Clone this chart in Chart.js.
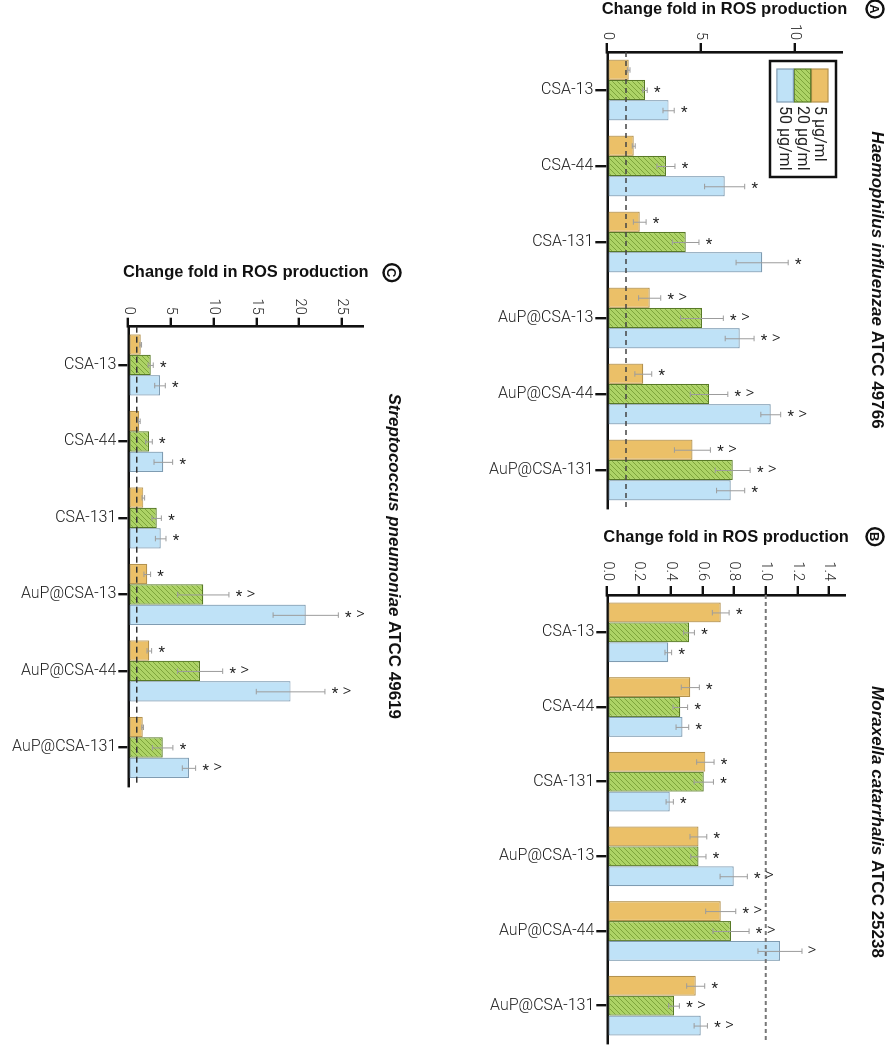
<!DOCTYPE html>
<html>
<head>
<meta charset="utf-8">
<script src="https://cdn.jsdelivr.net/npm/chart.js@4.4.1/dist/chart.umd.min.js"></script>
<style>
  html, body { margin:0; padding:0; background:#fff; }
  body { width:886px; height:1049px; overflow:hidden; position:relative; }
  #fig { position:absolute; left:0; top:0; width:1049px; height:886px;
         transform-origin:0 0; transform:translate(886px,0) rotate(90deg); }
  canvas { position:absolute; }
</style>
</head>
<body>
<div id="fig">
  <canvas id="cA" width="515" height="416" style="left:0;top:0"></canvas>
  <canvas id="cB" width="529" height="416" style="left:520px;top:0"></canvas>
  <canvas id="cC" width="545" height="416" style="left:255px;top:470px"></canvas>
</div>
<script>
// ---------- data ----------
const categories = ['CSA-13', 'CSA-44', 'CSA-131', 'AuP@CSA-13', 'AuP@CSA-44', 'AuP@CSA-131'];
const doseLabels = ['5 µg/ml', '20 µg/ml', '50 µg/ml'];
const axisTitle = 'Change fold in ROS production';
const refValue = 1;

// Panel A: Haemophilus influenzae ATCC 49766
const titleA = ['Haemophilus influenzae', ' ATCC 49766'];
const ticksA = [0, 5, 10];
const maxA = 12.5;
const hi5 = [1.14, 1.41, 1.73, 2.26, 1.92, 4.54];
const hi5Err = [0.07, 0.08, 0.34, 0.59, 0.45, 0.96];
const hi20 = [2.01, 3.13, 4.18, 5.05, 5.43, 6.69];
const hi20Err = [0.12, 0.48, 0.71, 1.14, 1.0, 0.93];
const hi50 = [3.27, 6.26, 8.26, 7.06, 8.72, 6.58];
const hi50Err = [0.3, 1.07, 1.39, 0.77, 0.53, 0.75];
const hi5Mark = ['', '', '*', '* >', '*', '* >'];
const hi20Mark = ['*', '*', '*', '* >', '* >', '* >'];
const hi50Mark = ['*', '*', '*', '* >', '* >', '*'];

// Panel B: Moraxella catarrhalis ATCC 25238
const titleB = ['Moraxella catarrhalis', ' ATCC 25238'];
const ticksB = [0, 0.2, 0.4, 0.6, 0.8, 1.0, 1.2, 1.4];
const maxB = 1.5;
const mc5 = [0.716, 0.524, 0.619, 0.575, 0.716, 0.558];
const mc5Err = [0.053, 0.057, 0.055, 0.053, 0.095, 0.057];
const mc20 = [0.516, 0.461, 0.609, 0.575, 0.781, 0.421];
const mc20Err = [0.034, 0.046, 0.061, 0.048, 0.114, 0.034];
const mc50 = [0.385, 0.474, 0.394, 0.798, 1.09, 0.59];
const mc50Err = [0.021, 0.04, 0.023, 0.086, 0.139, 0.042];
const mc5Mark = ['*', '*', '*', '*', '* >', '*'];
const mc20Mark = ['*', '*', '*', '*', '* >', '* >'];
const mc50Mark = ['*', '*', '*', '* >', '>', '* >'];

// Panel C: Streptococcus pneumoniae ATCC 49619
const titleC = ['Streptococcus pneumoniae', ' ATCC 49619'];
const ticksC = [0, 5, 10, 15, 20, 25];
const maxC = 27.5;
const sp5 = [1.45, 1.29, 1.76, 2.22, 2.46, 1.68];
const sp5Err = [0.1, 0.1, 0.15, 0.39, 0.27, 0.1];
const sp20 = [2.62, 2.42, 3.32, 8.78, 8.4, 4.02];
const sp20Err = [0.3, 0.39, 0.55, 3.0, 2.65, 1.2];
const sp50 = [3.71, 4.1, 3.79, 20.77, 19.0, 7.1];
const sp50Err = [0.62, 1.09, 0.62, 3.82, 4.02, 0.78];
const sp5Mark = ['', '', '', '*', '*', ''];
const sp20Mark = ['*', '*', '*', '* >', '* >', '*'];
const sp50Mark = ['*', '*', '*', '* >', '* >', '* >'];

// ---------- styles ----------
const LIGHT = 'Roboto, "Liberation Sans", Arial, sans-serif';
const BOLD = '"Liberation Sans", Arial, Helvetica, sans-serif';
const orangeFill = '#EBC068', orangeLine = '#B4924E';
const greenBase = '#ADD366', greenHatch = '#7EA53C', greenLine = '#587A26';
const blueFill = '#BFE2F7', blueLine = '#7F9CB2';

function hatch(base, line) {
  const s = 5;
  const c = document.createElement('canvas');
  c.width = s; c.height = s;
  const x = c.getContext('2d');
  x.fillStyle = base; x.fillRect(0, 0, s, s);
  x.strokeStyle = line; x.lineWidth = 1;
  x.beginPath();
  x.moveTo(0, s); x.lineTo(s, 0);
  x.moveTo(-1, 1); x.lineTo(1, -1);
  x.moveTo(s - 1, s + 1); x.lineTo(s + 1, s - 1);
  x.stroke();
  return x.createPattern(c, 'repeat');
}
const greenFill = hatch(greenBase, greenHatch);

function datasets(d5, d20, d50) {
  return [
    { label: doseLabels[0], data: d5, backgroundColor: orangeFill, borderColor: orangeLine },
    { label: doseLabels[1], data: d20, backgroundColor: greenFill, borderColor: greenLine },
    { label: doseLabels[2], data: d50, backgroundColor: blueFill, borderColor: blueLine }
  ].map(d => Object.assign(d, { borderWidth: 1.2, borderSkipped: false,
        categoryPercentage: 0.8, barPercentage: 1.0 }));
}

function rotText(ctx, t, x, y, dy) {
  ctx.save();
  ctx.translate(x, y);
  ctx.rotate(-Math.PI / 2);
  ctx.fillText(t, 0, dy || 0);
  ctx.restore();
}

const panelPlugin = {
  id: 'panel',
  afterDatasetsDraw(chart, args, o) {
    const ctx = chart.ctx, ys = chart.scales.y, area = chart.chartArea;
    // reference line at 1
    ctx.save();
    ctx.setLineDash(o.dash);
    ctx.strokeStyle = o.refColor; ctx.lineWidth = o.refWidth;
    const py = ys.getPixelForValue(refValue);
    ctx.beginPath(); ctx.moveTo(area.left, py); ctx.lineTo(area.right, py); ctx.stroke();
    ctx.restore();
    // error bars and marks
    chart.data.datasets.forEach((ds, i) => {
      const meta = chart.getDatasetMeta(i);
      meta.data.forEach((bar, j) => {
        const v = ds.data[j], e = o.errors[i][j];
        const top = ys.getPixelForValue(v + e);
        const bot = ys.getPixelForValue(Math.max(0, v - e));
        const x = bar.x;
        ctx.save();
        ctx.strokeStyle = '#9c9c9c'; ctx.lineWidth = 1;
        ctx.beginPath();
        ctx.moveTo(x + 0.5, top); ctx.lineTo(x + 0.5, bot);
        ctx.moveTo(x - 2.5, top); ctx.lineTo(x + 3, top);
        ctx.moveTo(x - 2.5, bot); ctx.lineTo(x + 3, bot);
        ctx.stroke();
        ctx.restore();
        const m = o.marks[i][j];
        if (m) {
          ctx.save();
          ctx.fillStyle = '#222';
          ctx.font = '15px ' + LIGHT;
          ctx.textAlign = 'center'; ctx.textBaseline = 'middle';
          const hasStar = m.indexOf('*') >= 0, hasHat = m.indexOf('>') >= 0;
          if (hasStar) rotText(ctx, '*', x, top - 10, 3);
          if (hasHat) {
            ctx.font = '300 17px ' + LIGHT;
            rotText(ctx, '>', x, hasStar ? top - 22 : top - 10, 0);
          }
          ctx.restore();
        }
      });
    });
  },
  afterDraw(chart, args, o) {
    const ctx = chart.ctx, area = chart.chartArea;
    // panel letter
    ctx.save();
    ctx.strokeStyle = '#111'; ctx.lineWidth = 2.4;
    ctx.beginPath(); ctx.arc(o.letterX, o.letterY, 8.5, 0, Math.PI * 2); ctx.stroke();
    ctx.fillStyle = '#111'; ctx.font = 'bold 13px ' + BOLD;
    ctx.textAlign = 'center'; ctx.textBaseline = 'middle';
    ctx.fillText(o.letter, o.letterX, o.letterY + 1);
    ctx.restore();
    // species title
    ctx.save();
    ctx.fillStyle = '#111';
    ctx.textBaseline = 'alphabetic';
    const f1 = 'italic bold 17px ' + BOLD, f2 = 'bold 17px ' + BOLD;
    ctx.font = f1; const w1 = ctx.measureText(o.title[0]).width;
    ctx.font = f2; const w2 = ctx.measureText(o.title[1]).width;
    const cx = (area.left + area.right) / 2 + (o.titleShift || 0);
    let x0 = cx - (w1 + w2) / 2;
    ctx.font = f1; ctx.fillText(o.title[0], x0, o.titleY);
    ctx.font = f2; ctx.fillText(o.title[1], x0 + w1, o.titleY);
    ctx.restore();
    // legend
    if (o.legend) {
      const L = o.legend;
      ctx.save();
      ctx.strokeStyle = '#111'; ctx.lineWidth = 2.5;
      ctx.strokeRect(L.x, L.y, L.w, L.h);
      chart.data.datasets.forEach((ds, i) => {
        const sy = L.y + 8 + i * 17.3;
        ctx.fillStyle = ds.backgroundColor;
        ctx.fillRect(L.x + 8, sy, 33, 16.5);
        ctx.strokeStyle = ds.borderColor; ctx.lineWidth = 1.2;
        ctx.strokeRect(L.x + 8, sy, 33, 16.5);
        ctx.fillStyle = '#222'; ctx.font = '16px ' + LIGHT;
        ctx.textAlign = 'left'; ctx.textBaseline = 'middle';
        ctx.fillText(ds.label, L.x + 45, sy + 9);
      });
      ctx.restore();
    }
  }
};

function makeChart(id, cfg) {
  const decimals = cfg.decimals;
  return new Chart(document.getElementById(id), {
    type: 'bar',
    data: { labels: categories, datasets: cfg.datasets },
    plugins: [panelPlugin],
    options: {
      responsive: false,
      animation: false,
      events: [],
      layout: { padding: cfg.padding },
      plugins: {
        legend: { display: false },
        tooltip: { enabled: false },
        panel: cfg.panel
      },
      scales: {
        x: {
          type: 'category',
          offset: true,
          afterFit: s => { s.height = cfg.xH; },
          grid: { offset: false, drawOnChartArea: false, drawTicks: true, tickLength: cfg.catTick,
                  color: '#111', lineWidth: 2.4 },
          border: { display: true, color: '#111', width: 2.6 },
          ticks: { minRotation: 90, maxRotation: 90, autoSkip: false, padding: 2,
                   color: '#222', font: { family: LIGHT, size: 16, weight: '300' } }
        },
        y: {
          type: 'linear',
          min: 0, max: cfg.max,
          afterFit: s => { s.width = cfg.yW; },
          afterBuildTicks: s => { s.ticks = cfg.ticks.map(v => ({ value: v })); },
          grid: { drawOnChartArea: false, drawTicks: true, tickLength: 9, color: '#111', lineWidth: 2.4 },
          border: { display: true, color: '#111', width: 2.6 },
          ticks: { padding: cfg.tickPad, color: '#222', font: { family: LIGHT, size: 14.5, weight: '300' },
                   callback: v => Number(v).toFixed(decimals) },
          title: { display: true, text: axisTitle, padding: 0, color: '#111',
                   font: { family: BOLD, size: 16.5, weight: 'bold', lineHeight: 1.1 } }
        }
      }
    }
  });
}

makeChart('cA', {
  datasets: datasets(hi5, hi20, hi50),
  max: maxA, ticks: ticksA, decimals: 0, tickPad: 3, catTick: 12,
  padding: { left: 0, right: 7, top: 44.4, bottom: 0 }, yW: 52, xH: 137.3,
  panel: {
    errors: [hi5Err, hi20Err, hi50Err], marks: [hi5Mark, hi20Mark, hi50Mark],
    dash: [5, 4], refColor: '#444', refWidth: 1.5,
    letter: 'A', letterX: 9, letterY: 11, title: titleA, titleY: 14,
    legend: { x: 61, y: 50, w: 116, h: 66 }
  }
});

makeChart('cB', {
  datasets: datasets(mc5, mc20, mc50),
  max: maxB, ticks: ticksB, decimals: 1, tickPad: 5, catTick: 11,
  padding: { left: 8, right: 6, top: 41.1, bottom: 0 }, yW: 67, xH: 137.3,
  panel: {
    errors: [mc5Err, mc20Err, mc50Err], marks: [mc5Mark, mc20Mark, mc50Mark],
    dash: [4, 3], refColor: '#777', refWidth: 2,
    letter: 'B', letterX: 16.7, letterY: 11, title: titleB, titleY: 14, titleShift: 3
  }
});

makeChart('cC', {
  datasets: datasets(sp5, sp20, sp50),
  max: maxC, ticks: ticksC, decimals: 0, tickPad: 3, catTick: 10,
  padding: { left: 8.7, right: 14.3, top: 52.8, bottom: 0 }, yW: 63, xH: 128.3,
  panel: {
    errors: [sp5Err, sp20Err, sp50Err], marks: [sp5Mark, sp20Mark, sp50Mark],
    dash: [6, 4], refColor: '#333', refWidth: 1.5,
    letter: 'C', letterX: 17.7, letterY: 24, title: titleC, titleY: 27
  }
});
</script>
</body>
</html>
